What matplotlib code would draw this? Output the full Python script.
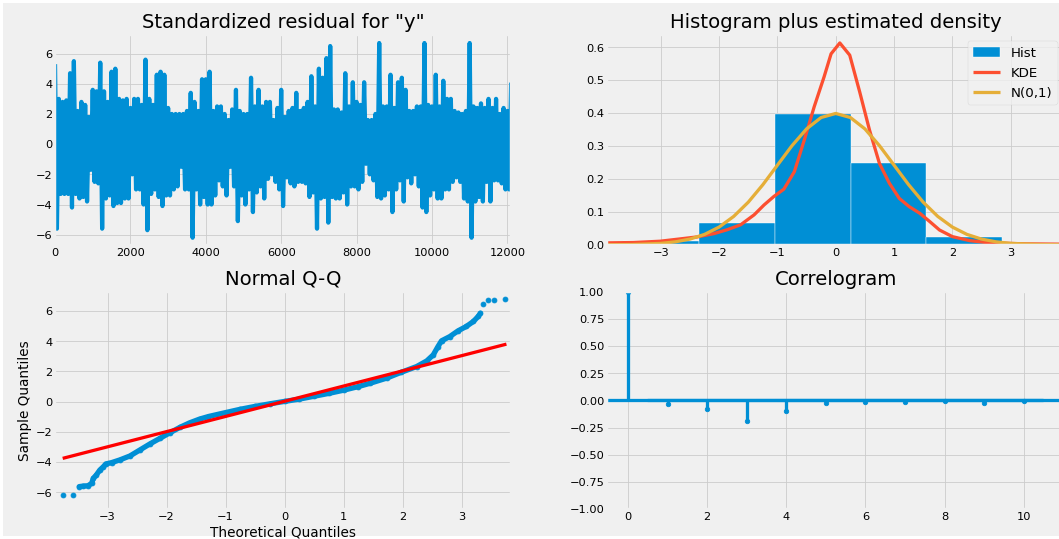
import numpy as np
import matplotlib
matplotlib.use("Agg")
import matplotlib.pyplot as plt
from matplotlib.patches import Rectangle

# ---------------- data ----------------
# standardized residuals: upper / lower envelope per 100 observations
resid_t = list(range(0, 12200, 100))
resid_hi = [5.3, 3.0, 2.8, 2.9, 4.7, 5.5, 2.2, 2.8, 2.6, 1.8,
            3.6, 3.5, 5.4, 3.5, 2.8, 4.8, 5.0, 3.0, 2.9, 3.0,
            2.4, 3.0, 3.0, 2.6, 5.6, 3.0, 2.6, 4.6, 4.8, 4.6,
            2.4, 2.0, 2.0, 2.0, 2.0, 2.2, 3.4, 2.8, 2.2, 4.3,
            4.3, 4.8, 2.2, 2.5, 2.5, 2.0, 1.6, 2.3, 3.6, 2.2,
            2.0, 2.0, 4.4, 2.5, 3.6, 2.5, 2.8, 2.8, 1.6, 2.4,
            3.6, 1.8, 2.2, 2.4, 3.4, 2.2, 2.4, 2.8, 4.5, 2.5,
            5.0, 4.4, 5.7, 6.5, 2.3, 2.3, 2.1, 4.7, 2.5, 4.1,
            2.8, 2.6, 4.1, 1.6, 1.6, 2.0, 6.7, 2.5, 2.5, 4.6,
            2.4, 4.1, 4.4, 3.6, 2.2, 2.2, 2.5, 2.5, 6.7, 2.6,
            2.5, 4.6, 2.5, 4.2, 3.0, 3.0, 2.2, 2.1, 2.0, 2.2,
            6.7, 2.5, 2.4, 2.7, 2.4, 3.0, 2.4, 3.0, 2.0, 2.4,
            2.2, 4.0]
resid_lo = [-5.6, -3.3, -3.3, -3.3, -4.2, -3.3, -3.6, -3.5, -3.8, -1.7,
            -2.5, -2.6, -5.6, -3.6, -3.4, -4.1, -3.9, -3.9, -3.6, -3.6,
            -2.0, -3.0, -3.0, -4.0, -5.7, -3.3, -3.0, -3.5, -4.1, -3.4,
            -3.4, -3.0, -2.8, -1.5, -3.0, -3.0, -6.2, -3.0, -4.0, -3.5,
            -4.0, -4.0, -3.4, -2.4, -2.8, -3.4, -1.5, -2.8, -5.1, -3.4,
            -4.0, -3.0, -4.5, -3.2, -2.8, -3.6, -2.3, -2.0, -2.5, -3.0,
            -4.1, -2.2, -2.6, -2.8, -2.5, -2.5, -2.6, -3.5, -3.2, -5.6,
            -3.6, -3.5, -5.2, -3.5, -3.6, -3.6, -3.2, -4.0, -2.8, -2.8,
            -3.0, -2.5, -1.3, -2.0, -2.4, -3.5, -3.6, -3.4, -3.0, -4.5,
            -3.0, -2.4, -3.8, -2.2, -2.6, -2.0, -2.8, -4.2, -4.5, -3.4,
            -3.0, -3.6, -3.6, -3.0, -3.0, -2.5, -2.2, -2.5, -3.6, -3.8,
            -6.2, -3.8, -3.5, -3.8, -2.5, -3.8, -2.4, -2.4, -2.6, -3.0,
            -3.0, -3.2]

# histogram
hist_edges = [-6.24, -4.94, -3.64, -2.34, -1.04, 0.255, 1.555, 2.855, 4.155, 5.455, 6.755]
hist_dens = [0.0006, 0.002, 0.011, 0.067, 0.397, 0.247, 0.025, 0.004, 0.001, 0.0005]

# KDE curve
kde_x = [-3.92, -3.47, -3.01, -2.67, -2.38, -2.09, -1.86, -1.63, -1.40, -1.23,
         -1.06, -0.89, -0.71, -0.54, -0.37, -0.20, -0.08, 0.07, 0.24, 0.41,
         0.58, 0.75, 0.92, 1.09, 1.26, 1.44, 1.61, 1.78, 2.00, 2.29,
         2.58, 2.86, 3.26, 3.92]
kde_y = [0.006, 0.007, 0.011, 0.018, 0.024, 0.034, 0.046, 0.061, 0.091, 0.121,
         0.147, 0.169, 0.222, 0.318, 0.419, 0.510, 0.580, 0.613, 0.576, 0.465,
         0.348, 0.247, 0.187, 0.141, 0.116, 0.096, 0.071, 0.045, 0.025, 0.013,
         0.007, 0.005, 0.003, 0.002]

# N(0,1) curve
norm_x = [-3.92, -3.5, -3.0, -2.75, -2.5, -2.25, -2.0, -1.75, -1.5, -1.25,
          -1.0, -0.75, -0.5, -0.25, 0.0, 0.25, 0.5, 0.75, 1.0, 1.25,
          1.5, 1.75, 2.0, 2.25, 2.5, 2.75, 3.0, 3.5, 3.92]
norm_y = [0.0002, 0.0009, 0.0044, 0.0091, 0.0175, 0.0317, 0.054, 0.0863, 0.1295, 0.1826,
          0.242, 0.3011, 0.3521, 0.3867, 0.3989, 0.3867, 0.3521, 0.3011, 0.242, 0.1826,
          0.1295, 0.0863, 0.054, 0.0317, 0.0175, 0.0091, 0.0044, 0.0009, 0.0002]

# Q-Q plot
qq_theo = [-3.76, -3.59, -3.48, -3.41, -3.33, -3.27, -3.24, -3.19, -3.13, -3.07,
           -3.03, -2.93, -2.79, -2.62, -2.45, -2.28, -2.11, -1.94, -1.77, -1.61,
           -1.44, -1.29, -1.00, -0.75, -0.50, -0.25, 0.00, 0.25, 0.50, 0.75,
           1.00, 1.25, 1.45, 1.73, 1.98, 2.24, 2.41, 2.52, 2.60, 2.66,
           2.80, 2.94, 3.08, 3.20, 3.28, 3.32, 3.37, 3.45, 3.55, 3.73]
qq_samp = [-6.17, -6.17, -5.62, -5.58, -5.56, -5.40, -5.07, -4.85, -4.52, -4.30,
           -4.12, -4.03, -3.85, -3.59, -3.19, -2.79, -2.42, -2.05, -1.69, -1.40,
           -1.15, -0.98, -0.72, -0.50, -0.31, -0.14, 0.02, 0.17, 0.36, 0.55,
           0.76, 1.00, 1.22, 1.56, 1.95, 2.33, 2.70, 3.10, 3.65, 4.03,
           4.31, 4.69, 4.98, 5.31, 5.64, 5.86, 6.48, 6.70, 6.74, 6.79]
qq_line_x = [-3.76, 3.76]
qq_line_y = [-3.75, 3.81]

# correlogram
acf_lags = [0, 1, 2, 3, 4, 5, 6, 7, 8, 9, 10]
acf_vals = [1.0, -0.037, -0.077, -0.191, -0.102, -0.028, -0.015, -0.015, -0.009, -0.028, -0.003]
conf_lags = [0.5, 2, 3, 4, 5, 6, 7, 8, 9, 10.5]
conf_half = [0.0178, 0.0178, 0.0179, 0.0185, 0.0187, 0.0187, 0.0187, 0.0187, 0.0187, 0.0188]

# ---------------- figure ----------------
plt.style.use("fivethirtyeight")
plt.rcParams.update({
    "font.size": 16.8,
    "xtick.labelsize": 14,
    "ytick.labelsize": 14,
    "axes.labelsize": 16.8,
    "axes.titlesize": 24.2,
    "axes.titlepad": 9.0,
    "legend.fontsize": 16.5,
})
DPI = 58.6
W, H = 1059, 539
fig = plt.figure(figsize=((W + 0.3) / DPI, (H + 0.3) / DPI), dpi=DPI)
fig.patch.set_facecolor("white")
fig.add_artist(Rectangle((3 / W, 3 / H), 1.0, 1 - 6 / H, transform=fig.transFigure,
                         facecolor="#f0f0f0", edgecolor="none", zorder=-5))

ax1 = fig.add_axes([55 / W, 1 - 245 / H, 456 / W, 210 / H])
ax2 = fig.add_axes([607 / W, 1 - 245 / H, 457 / W, 210 / H])
ax3 = fig.add_axes([55 / W, 1 - 509 / H, 456 / W, 217 / H])
ax4 = fig.add_axes([607 / W, 1 - 509 / H, 457 / W, 217 / H])

# --- standardized residuals (dense line drawn as a zigzag through the envelope) ---
t = np.asarray(resid_t, dtype=float)
zz_t = np.empty(2 * len(t))
zz_y = np.empty(2 * len(t))
zz_t[0::2] = t
zz_t[1::2] = t + 50
zz_y[0::2] = resid_hi
zz_y[1::2] = resid_lo
ax1.plot(zz_t, zz_y, color="C0", lw=5.2)
ax1.hlines(0, 0, 12100, alpha=0.5)
ax1.set_xlim(0, 12100)
ax1.set_ylim(-6.67, 7.25)
ax1.set_title('Standardized residual for "y"')

# --- histogram + densities ---
edges = np.asarray(hist_edges)
h_bar = ax2.bar(edges[:-1], hist_dens, width=np.diff(edges), align="edge",
                color="C0", label="Hist", edgecolor="#FFFFFF")
h_kde, = ax2.plot(kde_x, kde_y, color="C1", label="KDE")
h_norm, = ax2.plot(norm_x, norm_y, color="C2", label="N(0,1)")
ax2.set_xlim(-3.92, 3.92)
ax2.set_ylim(0, 0.638)
ax2.legend(handles=[h_bar, h_kde, h_norm], loc="upper right")
ax2.set_title("Histogram plus estimated density")

# --- Normal Q-Q ---
qt = np.asarray(qq_theo)
qs = np.asarray(qq_samp)
dense = (qt >= -3.5) & (qt <= 3.33)
ax3.plot(qt[dense], qs[dense], color="C0", lw=6.5, solid_capstyle="round")
ax3.plot(qt, qs, marker="o", linestyle="none", markerfacecolor="C0",
         markeredgecolor="C0")
ax3.plot(qq_line_x, qq_line_y, "r-")
ax3.set_xlim(-3.89, 3.84)
ax3.set_ylim(-7.1, 7.27)
ax3.set_xlabel("Theoretical Quantiles")
ax3.set_ylabel("Sample Quantiles")
ax3.set_title("Normal Q-Q")

# --- correlogram ---
ax4.vlines(acf_lags, [0], acf_vals)
ax4.axhline()
ax4.plot(acf_lags, acf_vals, marker="o", markersize=5.5, linestyle="None")
ch = np.asarray(conf_half)
ax4.fill_between(conf_lags, -ch, ch, alpha=0.25)
ax4.set_xlim(-0.525, 11.025)
ax4.set_ylim(-1, 1)
ax4.set_title("Correlogram")

fig.savefig("out.png", dpi=DPI, facecolor="white")
